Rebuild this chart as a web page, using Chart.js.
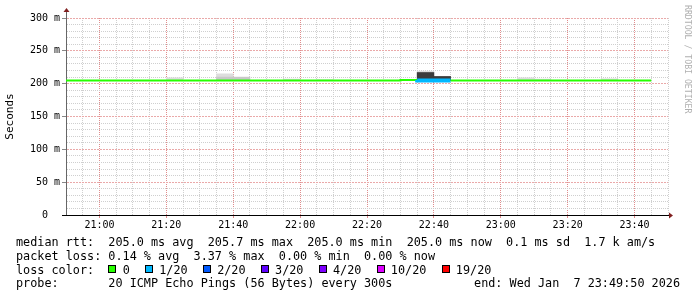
<!DOCTYPE html>
<html>
<head>
<meta charset="utf-8">
<script src="https://cdn.jsdelivr.net/npm/chart.js@4/dist/chart.umd.min.js"></script>
<style>
  html, body { margin: 0; padding: 0; background: #fff; }
  #wrap { position: relative; width: 697px; height: 297px; overflow: hidden; background: #fff; }
  #graph { position: absolute; left: 0; top: 0; }
  .txt { position: absolute; left: 16px; font-family: "DejaVu Sans Mono", monospace; font-size: 11.8px;
         line-height: 14px; white-space: pre; color: #000; }
  .box { display: inline-block; width: 8px; height: 8px; border: 1px solid #000; box-sizing: border-box;
         vertical-align: 1px; margin-right: 6.3px; }
  .item { margin-right: 15.2px; }
  #wm { position: absolute; left: 683px; top: 5px; writing-mode: vertical-rl; font-family: "DejaVu Sans Mono", monospace;
        font-size: 8.2px; color: #b0b0b0; white-space: pre; }
</style>
</head>
<body>
<div id="wrap">
  <canvas id="graph" width="697" height="297"></canvas>
  <div id="wm">RRDTOOL / TOBI OETIKER</div>
  <div class="txt" style="top:234.5px">median rtt:  205.0 ms avg  205.7 ms max  205.0 ms min  205.0 ms now  0.1 ms sd  1.7 k am/s</div>
  <div class="txt" style="top:248.5px">packet loss: 0.14 % avg  3.37 % max  0.00 % min  0.00 % now</div>
  <div class="txt" id="lossLine" style="top:262.5px">loss color:  </div>
  <div class="txt" style="top:276px">probe:       20 ICMP Echo Pings (56 Bytes) every 300s</div>
  <div class="txt" style="top:276px; left:auto; right:17px">end: Wed Jan  7 23:49:50 2026</div>
</div>
<script>
// 5 minute slots (start time of each step)
const slots = [
  "20:50", "20:55", "21:00", "21:05", "21:10", "21:15", "21:20", "21:25", "21:30", "21:35",
  "21:40", "21:45", "21:50", "21:55", "22:00", "22:05", "22:10", "22:15", "22:20", "22:25",
  "22:30", "22:35", "22:40", "22:45", "22:50", "22:55", "23:00", "23:05", "23:10", "23:15",
  "23:20", "23:25", "23:30", "23:35", "23:40"
];
// median rtt in ms
const median = [
  205.0, 205.0, 205.0, 205.0, 205.0, 205.0, 205.0, 205.0, 205.0, 205.0,
  205.0, 205.0, 205.0, 205.0, 205.0, 205.0, 205.0, 205.0, 205.0, 205.0,
  205.0, 205.7, 205.0, 205.0, 205.0, 205.0, 205.0, 205.0, 205.0, 205.0,
  205.0, 205.0, 205.0, 205.0, 205.0
];
// packet loss in %
const loss = [
  0, 0, 0, 0, 0, 0, 0, 0, 0, 0,
  0, 0, 0, 0, 0, 0, 0, 0, 0, 0,
  0, 3.37, 1.53, 0, 0, 0, 0, 0, 0, 0,
  0, 0, 0, 0, 0
];
// smoke: lowest ping, highest ping, upper quartile, dense core
const smokeLo = [
  204.6, 204.6, 204.6, 204.6, 204.6, 204.6, 204.6, 204.6, 204.6, 204.6,
  204.6, 204.6, 204.6, 204.6, 204.6, 204.6, 204.6, 204.6, 204.6, 204.6,
  204.6, 204.6, 204.6, 204.6, 204.6, 204.6, 204.6, 204.6, 204.6, 204.6,
  204.6, 204.6, 204.6, 204.6, 204.6
];
const smokeHi = [
  null, null, null, null, null, null, 209, null, null, 215,
  null, null, null, 207, null, 206, null, null, null, null,
  null, 219, null, null, null, null, null, 209, 207, null,
  null, null, 207.5, null, null
];
const smokeMid = [
  null, null, null, null, null, null, null, null, null, 210,
  210, null, null, null, null, null, null, null, null, null,
  null, null, null, null, null, null, null, null, null, null,
  null, null, null, null, null
];
const smokeCore = [
  null, null, null, null, null, null, null, null, null, null,
  null, null, null, null, null, null, null, null, null, null,
  null, 217, 211, null, null, null, null, null, null, null,
  null, null, null, null, null
];

const timeTicks = ["21:00", "21:20", "21:40", "22:00", "22:20", "22:40", "23:00", "23:20", "23:40"];
const rttTicks = [0, 50, 100, 150, 200, 250, 300];

const lossLabels = ["0", "1/20", "2/20", "3/20", "4/20", "10/20", "19/20"];
const lossLimits = [0, 1, 2, 3, 4, 10, 19];
const lossColors = ["#26ff00", "#00b8ff", "#0059ff", "#5e00ff", "#7e00ff", "#dd00ff", "#ff0000"];

const STEP = 5;
const toMin = (s) => { const p = s.split(":"); return +p[0] * 60 + +p[1]; };
const fmt = (m) => String(Math.floor(m / 60)).padStart(2, "0") + ":" + String(Math.round(m % 60)).padStart(2, "0");
const slotMin = slots.map(toMin);
const xMin = slotMin[0];
const xMax = toMin("23:50");

function lossColor(pct) {
  const pings = pct / 100 * 20;
  let idx = 0;
  for (let i = 0; i < lossLimits.length; i++) {
    if (pings > 0 && lossLimits[i] <= Math.max(1, pings)) idx = i;
  }
  return lossColors[idx];
}

// legend boxes
const lossLine = document.getElementById("lossLine");
lossLabels.forEach((lab, i) => {
  const item = document.createElement("span");
  item.className = "item";
  item.innerHTML = '<span class="box" style="background:' + lossColors[i] + '"></span>' + lab;
  lossLine.appendChild(item);
});

// median line points (stepped, one extra point closes the last step)
const medianPts = slotMin.map((m, i) => ({ x: m, y: median[i] }));
medianPts.push({ x: slotMin[slotMin.length - 1] + STEP, y: median[median.length - 1] });

function smokeBars(top) {
  return slotMin.map((m, i) => ({
    x: m + STEP / 2,
    y: top[i] == null ? null : [smokeLo[i], top[i]],
  }));
}

const axisArrows = {
  id: "axisArrows",
  afterDraw(chart) {
    const { ctx, chartArea: a } = chart;
    const lx = Math.round(a.left) + 0.5;
    const by = Math.round(a.bottom) + 0.5;
    ctx.save();
    ctx.lineWidth = 1;
    ctx.strokeStyle = "#666";
    ctx.beginPath();
    ctx.moveTo(lx, a.top);
    ctx.lineTo(lx, a.top - 7);
    ctx.stroke();
    ctx.strokeStyle = "#000";
    ctx.beginPath();
    ctx.moveTo(a.left - 4, by);
    ctx.lineTo(a.right + 2, by);
    ctx.stroke();
    ctx.fillStyle = "#801f1f";
    ctx.beginPath();
    ctx.moveTo(lx - 3, a.top - 6);
    ctx.lineTo(lx + 3, a.top - 6);
    ctx.lineTo(lx, a.top - 10);
    ctx.closePath();
    ctx.fill();
    ctx.beginPath();
    ctx.moveTo(a.right + 1, by - 3);
    ctx.lineTo(a.right + 1, by + 3);
    ctx.lineTo(a.right + 5, by);
    ctx.closePath();
    ctx.fill();
    ctx.restore();
  },
};

const mono = "'DejaVu Sans Mono', monospace";
const MAJOR = "#e08c8c";
const MAJOR_Y = "#eaa9a9";
const MINOR = "#cfcfcf";
const isMajorX = (c) => !!c.tick && timeTicks.includes(fmt(c.tick.value));
const isMajorY = (c) => !!c.tick && rttTicks.includes(Math.round(c.tick.value)) && Math.round(c.tick.value) !== 0;

new Chart(document.getElementById("graph"), {
  type: "bar",
  data: {
    datasets: [
      {
        type: "line",
        data: medianPts,
        stepped: "after",
        borderColor: lossColors[0],
        borderWidth: 2,
        pointRadius: 0,
        order: 0,
        segment: {
          borderColor: (c) => lossColor(loss[c.p0DataIndex] || 0),
          borderWidth: (c) => (loss[c.p0DataIndex] > 0 ? 4 : 2),
        },
      },
      { data: smokeBars(smokeCore), backgroundColor: "#3c3c3c", order: 1 },
      { data: smokeBars(smokeMid), backgroundColor: "#c8c8c8", order: 2 },
      { data: smokeBars(smokeHi), backgroundColor: "#dddddd", order: 3 },
    ],
  },
  options: {
    responsive: false,
    animation: false,
    events: [],
    layout: { padding: { top: 18, right: 29, left: 0, bottom: 0 } },
    datasets: {
      bar: { grouped: false, barPercentage: 1, categoryPercentage: 1, borderWidth: 0 },
    },
    plugins: { legend: { display: false }, tooltip: { enabled: false } },
    scales: {
      x: {
        type: "linear",
        min: xMin,
        max: xMax,
        offset: false,
        afterFit: (s) => { s.height = 82; },
        ticks: {
          stepSize: STEP,
          autoSkip: false,
          maxRotation: 0,
          padding: 1,
          color: "#000",
          font: { family: mono, size: 10 },
          callback: (v) => (timeTicks.includes(fmt(v)) ? fmt(v) : ""),
        },
        grid: {
          offset: false,
          tickLength: 3,
          color: (c) => (isMajorX(c) ? MAJOR : MINOR),
          tickColor: (c) => (isMajorX(c) ? MAJOR : "rgba(0,0,0,0)"),
        },
        border: { display: false, dash: [1, 1] },
      },
      y: {
        min: 0,
        max: 300,
        afterFit: (s) => { s.width = 66; },
        title: {
          display: true,
          text: "Seconds",
          color: "#000",
          font: { family: mono, size: 11 },
          padding: { top: 4, bottom: 0 },
        },
        ticks: {
          stepSize: 10,
          autoSkip: false,
          padding: 2,
          color: "#000",
          font: { family: mono, size: 10 },
          callback: (v) => (rttTicks.includes(v) ? (v === 0 ? "0  " : v + " m") : ""),
        },
        grid: {
          tickLength: 4,
          color: (c) => (isMajorY(c) ? MAJOR_Y : MINOR),
          tickColor: (c) => (c.tick && rttTicks.includes(Math.round(c.tick.value)) ? "#888" : "rgba(0,0,0,0)"),
        },
        border: { display: true, color: "#666", dash: (c) => (isMajorY(c) ? [2, 1] : [1, 1]) },
      },
    },
  },
  plugins: [axisArrows],
});
</script>
</body>
</html>
